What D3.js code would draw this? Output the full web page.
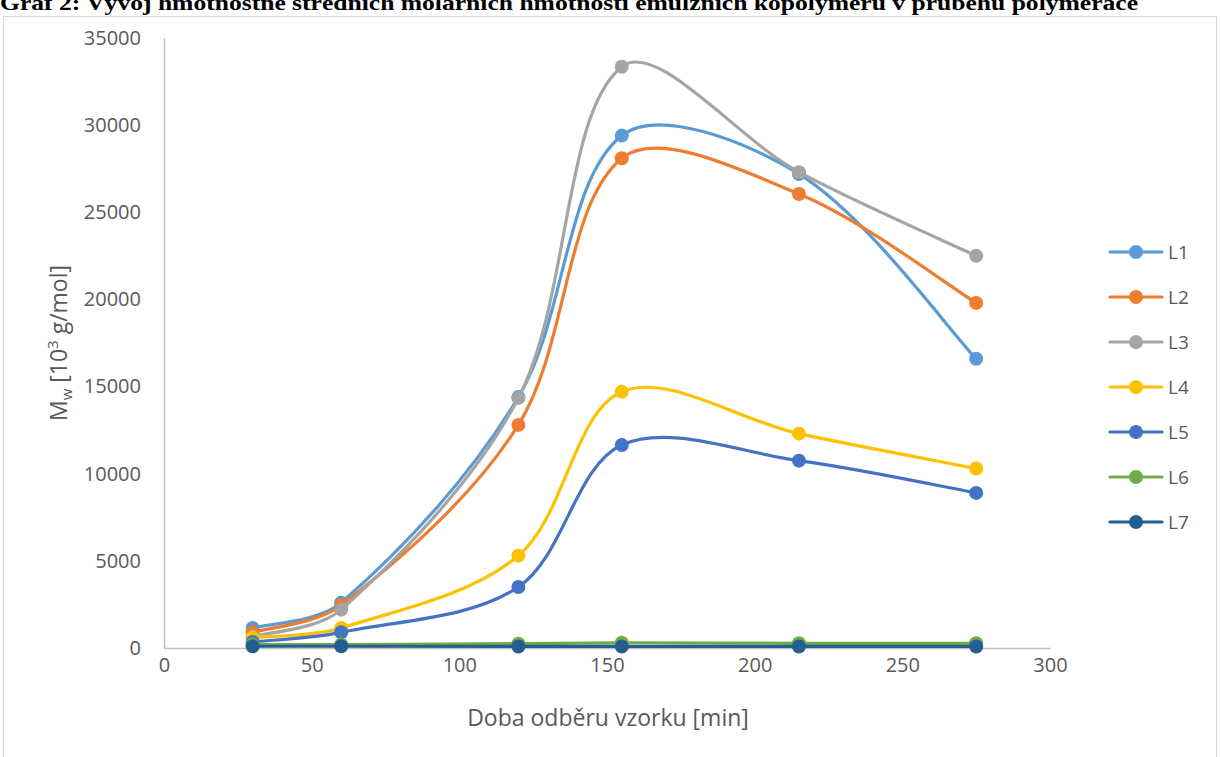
<!DOCTYPE html>
<html>
<head>
<meta charset="utf-8">
<script src="https://cdn.jsdelivr.net/npm/d3@7"></script>
<style>
  html, body { margin: 0; padding: 0; background: #fff; }
  svg { display: block; }
</style>
</head>
<body>
<svg id="chart" width="1222" height="757"></svg>
<script>
// Sampling times [min]
const times = [30, 60, 120, 155, 215, 275];

// Mw [10^3 g/mol] per latex
const L1 = [1150, 2600, 14400, 29400, 27200, 16600];
const L2 = [900, 2450, 12800, 28100, 26050, 19800];
const L3 = [650, 2200, 14350, 33350, 27300, 22500];
const L4 = [600, 1150, 5300, 14700, 12300, 10300];
const L5 = [350, 900, 3500, 11650, 10750, 8900];
const L6 = [200, 200, 250, 300, 270, 270];
const L7 = [100, 100, 90, 90, 90, 90];

const seriesNames = ["L1", "L2", "L3", "L4", "L5", "L6", "L7"];
const seriesValues = [L1, L2, L3, L4, L5, L6, L7];
const colors = ["#5B9BD5", "#ED7D31", "#A5A5A5", "#FFC000", "#4472C4", "#70AD47", "#255E91"];

const xTicks = [0, 50, 100, 150, 200, 250, 300];
const yTicks = [0, 5000, 10000, 15000, 20000, 25000, 30000, 35000];

const titleText = "Graf 2: Vývoj hmotnostně středních molárních hmotností emulzních kopolymerů v průběhu polymerace";

const svg = d3.select("#chart");
const font = "'Open Sans', sans-serif";

// Title (bold serif, partly above the page edge)
svg.append("text")
  .attr("x", 0).attr("y", 10)
  .attr("font-family", "'Liberation Serif', 'Times New Roman', serif")
  .attr("font-weight", "bold")
  .attr("font-size", 21)
  .attr("textLength", 1138)
  .attr("lengthAdjust", "spacingAndGlyphs")
  .attr("fill", "#000")
  .text(titleText);

// Chart frame
svg.append("rect")
  .attr("x", 3.5).attr("y", 16.5)
  .attr("width", 1213).attr("height", 760)
  .attr("fill", "none")
  .attr("stroke", "#d9d9d9")
  .attr("stroke-width", 1);

const x = d3.scaleLinear().domain([0, 300]).range([164, 1050]);
const y = d3.scaleLinear().domain([0, 35000]).range([648, 38]);

// Axes
const xAxis = d3.axisBottom(x).tickValues(xTicks).tickSize(0).tickPadding(10).tickFormat(d3.format("d"));
const yAxis = d3.axisLeft(y).tickValues(yTicks).tickSize(0).tickPadding(23).tickFormat(d3.format("d"));

const gx = svg.append("g").attr("transform", `translate(0,${y(0)})`).call(xAxis);
const gy = svg.append("g").attr("transform", `translate(${x(0)},0)`).call(yAxis);

[gx, gy].forEach(g => {
  g.select(".domain").attr("stroke", "#bfbfbf").attr("stroke-width", 1.5);
  g.selectAll(".tick text")
    .attr("font-family", font)
    .attr("font-size", 20)
    .attr("fill", "#595959");
});

// Axis titles
svg.append("text")
  .attr("x", (x(0) + x(300)) / 2 + 1).attr("y", 726)
  .attr("text-anchor", "middle")
  .attr("font-family", font)
  .attr("font-size", 23)
  .attr("fill", "#595959")
  .text("Doba odběru vzorku [min]");

const yt = svg.append("text")
  .attr("transform", `translate(67,${(y(0) + y(35000)) / 2}) rotate(-90)`)
  .attr("text-anchor", "middle")
  .attr("font-family", font)
  .attr("font-size", 23)
  .attr("fill", "#595959");
yt.append("tspan").text("M");
yt.append("tspan").attr("font-size", 15).attr("dy", 5).text("w");
yt.append("tspan").attr("dy", -5).text(" [10");
yt.append("tspan").attr("font-size", 15).attr("dy", -9).text("3");
yt.append("tspan").attr("dy", 9).text(" g/mol]");

// Smoothed line: cubic Bezier through the points, tangent lengths
// weighted by the neighbouring segment lengths (spreadsheet-style smoothing)
function smoothPath(pts) {
  const p = d3.path();
  const n = pts.length;
  const dist = (a, b) => Math.hypot(b[0] - a[0], b[1] - a[1]);
  const ctrl = pts.map((pt, i) => {
    if (i === 0 || i === n - 1) return { in: pt, out: pt };
    const prev = pts[i - 1], next = pts[i + 1];
    const tx = next[0] - prev[0], ty = next[1] - prev[1];
    const d1 = dist(prev, pt), d2 = dist(pt, next);
    const s = d1 + d2 || 1;
    const kin = (d1 / s) / 3, kout = (d2 / s) / 3;
    return {
      in: [pt[0] - tx * kin, pt[1] - ty * kin],
      out: [pt[0] + tx * kout, pt[1] + ty * kout]
    };
  });
  // end points: control one sixth toward the neighbour
  ctrl[0].out = [pts[0][0] + (pts[1][0] - pts[0][0]) / 6, pts[0][1] + (pts[1][1] - pts[0][1]) / 6];
  ctrl[n - 1].in = [pts[n - 1][0] - (pts[n - 1][0] - pts[n - 2][0]) / 6, pts[n - 1][1] - (pts[n - 1][1] - pts[n - 2][1]) / 6];
  p.moveTo(pts[0][0], pts[0][1]);
  for (let i = 1; i < n; i++) {
    const a = ctrl[i - 1].out, b = ctrl[i].in;
    p.bezierCurveTo(a[0], a[1], b[0], b[1], pts[i][0], pts[i][1]);
  }
  return p.toString();
}

seriesValues.forEach((vals, i) => {
  const pts = times.map((t, j) => [t, vals[j]]);
  const px = pts.map(d => [x(d[0]), y(d[1])]);
  const g = svg.append("g");
  g.append("path")
    .attr("d", smoothPath(px))
    .attr("fill", "none")
    .attr("stroke", colors[i])
    .attr("stroke-width", 3.2)
    .attr("stroke-linecap", "round");
  g.selectAll("circle").data(pts).join("circle")
    .attr("cx", d => x(d[0]))
    .attr("cy", d => y(d[1]))
    .attr("r", 7)
    .attr("fill", colors[i]);
});

// Legend
const legend = svg.append("g");
seriesNames.forEach((name, i) => {
  const ly = 252 + i * 45;
  legend.append("line")
    .attr("x1", 1110).attr("x2", 1162)
    .attr("y1", ly).attr("y2", ly)
    .attr("stroke", colors[i]).attr("stroke-width", 3.2)
    .attr("stroke-linecap", "round");
  legend.append("circle")
    .attr("cx", 1136).attr("cy", ly).attr("r", 7)
    .attr("fill", colors[i]);
  legend.append("text")
    .attr("x", 1168).attr("y", ly + 7)
    .attr("font-family", font)
    .attr("font-size", 19)
    .attr("fill", "#595959")
    .text(name);
});
</script>
</body>
</html>
